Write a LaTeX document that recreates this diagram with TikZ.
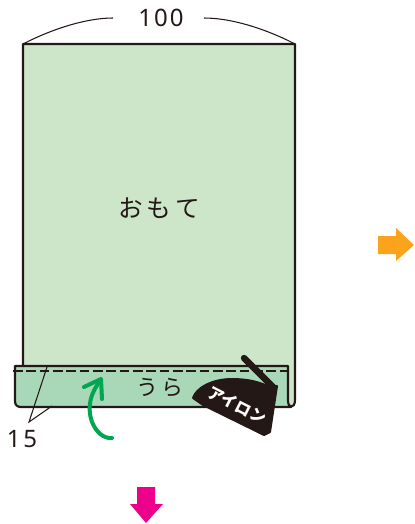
\documentclass[tikz,border=0pt]{standalone}
\usepackage{fontspec}
\newfontfamily\jpfont{Noto Sans CJK JP}
\newfontfamily\latfont{Noto Sans}
\definecolor{ink}{HTML}{231815}
\definecolor{clothface}{HTML}{CDE6C9}
\definecolor{clothback}{HTML}{A8D8B8}
\definecolor{greenarrow}{HTML}{00A651}
\definecolor{orangearrow}{HTML}{FAA31B}
\definecolor{pinkarrow}{HTML}{EC008C}
\tikzset{
  outline/.style={draw=ink,line width=1.6pt,line join=round},
  thinline/.style={draw=ink,line width=0.8pt},
  label/.style={text=ink,inner sep=0pt},
}
\begin{document}
\begin{tikzpicture}[x=0.75pt,y=-0.75pt]
\useasboundingbox (0,0) rectangle (414,524);
% main cloth
\path[fill=clothface] (23,44) -- (295,44) -- (295,400) .. controls (295,405) and (293,407) .. (290,407) -- (23,407) -- cycle;
\draw[outline] (23,366) -- (23,44) -- (295,44) -- (295,400) .. controls (295,405) and (293,407) .. (290,407);
% hem
\path[fill=clothback] (15,366) -- (288,366) -- (288,400) .. controls (288,404) and (289,406) .. (291,407) -- (21,407) .. controls (17,407) and (15,405) .. (15,401) -- cycle;
\draw[outline] (288,400) .. controls (288,404) and (289,406) .. (291,407) -- (21,407) .. controls (17,407) and (15,405) .. (15,401) -- (15,366) -- (288,366) -- cycle;
\draw[ink,line width=1.5pt,dash pattern=on 7.2pt off 2.8pt] (13,371) -- (288,371);
% dimension 100
\node[label,font=\latfont\fontsize{18}{18}\selectfont] (w) at (161,18) {1\kern1.6pt0\kern1.6pt0};
\coordinate (tl) at (23,44);
\coordinate (tr) at (295,44);
\coordinate (cl) at (113,18);
\coordinate (cr) at (204,18);
\draw[thinline] (tl) .. controls (50,30) and (85,18) .. (cl);
\draw[thinline] (tr) .. controls (268,30) and (233,18) .. (cr);
% dimension 15
\node[label,font=\latfont\fontsize{18}{18}\selectfont] (h) at (22,439) {1\kern2pt5};
\coordinate (la) at (29,422);
\coordinate (lb) at (47,367);
\coordinate (lc) at (52,406);
\draw[thinline] (lb) -- (la) -- (lc);
% labels
\node[label,font=\jpfont\fontsize{18.5}{18.5}\selectfont] (front) at (159,208) {お\kern3pt も\kern3pt て};
\node[label,font=\jpfont\fontsize{16.5}{16.5}\selectfont] (back) at (160,388) {う\kern3pt ら};
% green arrow
\coordinate (ga) at (112,438);
\coordinate (gb) at (100,379);
\draw[greenarrow,line width=3pt,line cap=round,line join=round] (ga) .. controls (96,440) and (79,410) .. (98,384);
\draw[greenarrow,line width=3pt,line cap=round,line join=round] (84,387) -- (101,379) -- (102,399);
% iron
\draw[ink,line width=4.8pt,line cap=round,line join=round] (244,358) -- (274,388);
\path[fill=ink,draw=ink,line width=1.5pt,line join=round] (193,398) .. controls (196,388) and (212,379) .. (232,379)
  .. controls (248,379) and (260,382) .. (272,388) -- (277,386) -- (270,432) -- (264,435) -- (203,405) -- cycle;
\node[inner sep=0pt,text=white,rotate=-27,font=\jpfont\bfseries\fontsize{12}{12}\selectfont] (iron) at (237,405) {アイロン};
% flow arrows
\path[fill=orangearrow] (378,236) -- (396,236) -- (396,228) -- (414,245) -- (396,261) -- (396,254) -- (378,254) -- cycle;
\path[fill=pinkarrow] (137,487) -- (155,487) -- (155,504) -- (163,504) -- (146,523) -- (130,504) -- (137,504) -- cycle;
\end{tikzpicture}
\end{document}
